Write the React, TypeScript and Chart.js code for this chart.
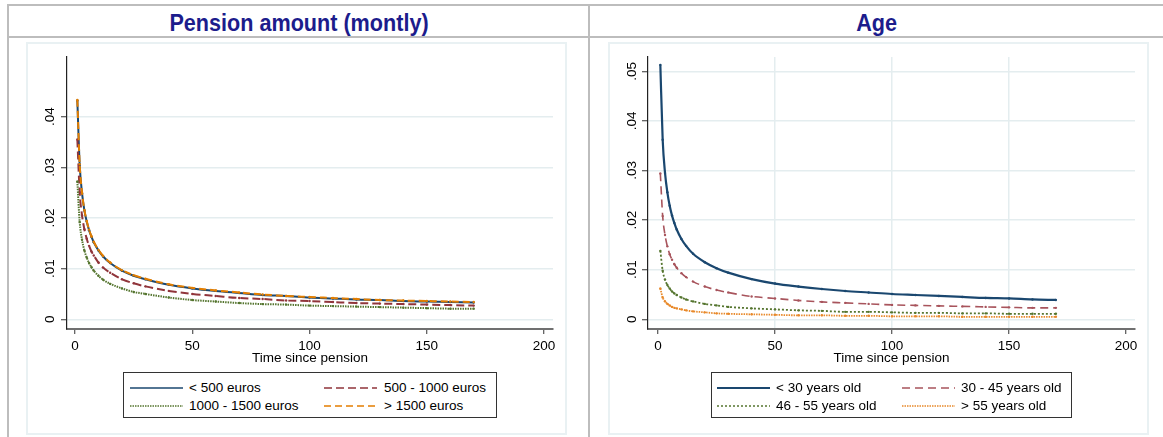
import React, { useEffect, useRef } from "react";
import { Chart, registerables } from "chart.js";

Chart.register(...registerables);

// ---------- data ----------
const timePoints = [1, 2, 3, 4, 5, 6, 7, 8, 10, 12, 15, 20, 25, 30, 40, 50, 60, 70, 80, 90, 100, 110, 120, 130, 140, 150, 160, 170];
const xTicks = [0, 50, 100, 150, 200];
const pensionYTicks = [0, 0.01, 0.02, 0.03, 0.04];
const ageYTicks = [0, 0.01, 0.02, 0.03, 0.04, 0.05];

const pensionTitle = "Pension amount (montly)";
const ageTitle = "Age";
const xAxisTitle = "Time since pension";

const pensionLabels = ["< 500 euros", "500 - 1000 euros", "1000 - 1500 euros", "> 1500 euros"];
const pensionUnder500 = [0.0432, 0.0305, 0.0249, 0.0215, 0.0193, 0.0176, 0.0163, 0.0152, 0.0136, 0.0124, 0.0111, 0.0096, 0.0086, 0.0079, 0.0068, 0.0061, 0.0056, 0.0052, 0.0048, 0.0046, 0.0043, 0.0041, 0.0039, 0.0038, 0.0036, 0.0035, 0.0034, 0.0033];
const pension500to1000 = [0.0355, 0.0251, 0.0205, 0.0178, 0.0159, 0.0145, 0.0134, 0.0126, 0.0112, 0.0102, 0.0092, 0.0079, 0.0071, 0.0065, 0.0056, 0.0050, 0.0046, 0.0042, 0.0040, 0.0037, 0.0036, 0.0034, 0.0032, 0.0031, 0.0030, 0.0029, 0.0028, 0.0027];
const pension1000to1500 = [0.0272, 0.0192, 0.0157, 0.0136, 0.0122, 0.0111, 0.0103, 0.0096, 0.0086, 0.0078, 0.0070, 0.0061, 0.0054, 0.0050, 0.0043, 0.0038, 0.0035, 0.0032, 0.0030, 0.0029, 0.0027, 0.0026, 0.0025, 0.0024, 0.0023, 0.0022, 0.0021, 0.0021];
const pensionOver1500 = [0.0433, 0.0306, 0.0250, 0.0216, 0.0194, 0.0177, 0.0164, 0.0153, 0.0137, 0.0125, 0.0112, 0.0097, 0.0087, 0.0080, 0.0069, 0.0062, 0.0057, 0.0053, 0.0049, 0.0046, 0.0044, 0.0042, 0.0040, 0.0038, 0.0037, 0.0036, 0.0035, 0.0034];

const ageLabels = ["< 30 years old", "30 - 45 years old", "46 - 55 years old", "> 55 years old"];
const ageUnder30 = [0.0513, 0.0362, 0.0295, 0.0256, 0.0229, 0.0209, 0.0194, 0.0181, 0.0162, 0.0148, 0.0132, 0.0115, 0.0103, 0.0094, 0.0081, 0.0072, 0.0066, 0.0061, 0.0057, 0.0054, 0.0051, 0.0049, 0.0047, 0.0045, 0.0043, 0.0042, 0.0040, 0.0039];
const age30to45 = [0.0294, 0.0208, 0.0170, 0.0147, 0.0131, 0.0120, 0.0111, 0.0104, 0.0093, 0.0085, 0.0076, 0.0066, 0.0059, 0.0054, 0.0046, 0.0042, 0.0038, 0.0035, 0.0033, 0.0031, 0.0029, 0.0028, 0.0027, 0.0026, 0.0025, 0.0024, 0.0023, 0.0023];
const age46to55 = [0.0138, 0.0098, 0.0080, 0.0069, 0.0062, 0.0056, 0.0052, 0.0049, 0.0044, 0.0040, 0.0036, 0.0031, 0.0028, 0.0025, 0.0022, 0.0020, 0.0018, 0.0017, 0.0015, 0.0015, 0.0014, 0.0013, 0.0013, 0.0012, 0.0012, 0.0011, 0.0011, 0.0011];
const ageOver55 = [0.0062, 0.0044, 0.0036, 0.0031, 0.0028, 0.0025, 0.0023, 0.0022, 0.0020, 0.0018, 0.0016, 0.0014, 0.0012, 0.0011, 0.0010, 0.0009, 0.0008, 0.0008, 0.0007, 0.0007, 0.0006, 0.0006, 0.0006, 0.0005, 0.0005, 0.0005, 0.0005, 0.0005];

// ---------- styles ----------
type SeriesStyle = { color: string; width: number; dash: number[]; order: number };

const pensionStyles: SeriesStyle[] = [
  { color: "#1a476f", width: 2, dash: [], order: 3 },
  { color: "#90353b", width: 2, dash: [8, 4], order: 2 },
  { color: "#55752f", width: 2, dash: [1.5, 1], order: 1 },
  { color: "#e37e00", width: 2, dash: [7, 4], order: 0 },
];
const ageStyles: SeriesStyle[] = [
  { color: "#1a476f", width: 2.2, dash: [], order: 0 },
  { color: "#a8545c", width: 1.6, dash: [8, 5], order: 1 },
  { color: "#55752f", width: 1.8, dash: [2, 2], order: 2 },
  { color: "#e8892a", width: 1.8, dash: [1.5, 1], order: 3 },
];

const FONT = '"Liberation Sans", Arial, Helvetica, sans-serif';
const GRID = "#e4edef";
const GRAY = "#bdbdbd";

const fmtY = (v: number) => (v === 0 ? "0" : v.toFixed(2).replace(/^0/, ""));

type PanelProps = {
  labels: string[];
  values: number[][];
  styles: SeriesStyle[];
  yTicks: number[];
  yMin: number;
  yMax: number;
  xMin: number;
  xMax: number;
  yAxisWidth: number;
  xGrid: boolean;
  left: number;
};

function PanelChart(p: PanelProps) {
  const ref = useRef<HTMLCanvasElement | null>(null);
  useEffect(() => {
    if (!ref.current) return;
    const rotLabels = {
      id: "rotLabels",
      afterDraw(chart: any) {
        const ys = chart.scales.y;
        const ctx = chart.ctx;
        ctx.save();
        ctx.fillStyle = "#000";
        ctx.font = "13.5px " + FONT;
        ctx.textAlign = "center";
        ctx.textBaseline = "middle";
        for (const v of p.yTicks) {
          const py = ys.getPixelForValue(v);
          ctx.save();
          ctx.translate(24, py);
          ctx.rotate(-Math.PI / 2);
          ctx.fillText(fmtY(v), 0, 0);
          ctx.restore();
        }
        ctx.restore();
      },
    };
    const chart = new Chart(ref.current, {
      type: "line",
      data: {
        datasets: p.values.map((vals, i) => ({
          label: p.labels[i],
          data: vals.map((v, k) => ({ x: timePoints[k], y: v })),
          borderColor: p.styles[i].color,
          backgroundColor: p.styles[i].color,
          borderWidth: p.styles[i].width,
          borderDash: p.styles[i].dash,
          pointRadius: 1.2,
          pointBorderWidth: 0,
          pointBackgroundColor: p.styles[i].color,
          cubicInterpolationMode: "monotone",
          order: p.styles[i].order,
          fill: false,
        })),
      },
      options: {
        animation: false,
        responsive: false,
        layout: { padding: { left: 0, top: 15, right: 14, bottom: 69 } },
        plugins: { legend: { display: false }, tooltip: { enabled: false } },
        scales: {
          x: {
            type: "linear",
            min: p.xMin,
            max: p.xMax,
            afterBuildTicks: (s: any) => {
              s.ticks = xTicks.map((v) => ({ value: v }));
            },
            afterFit: (s: any) => {
              s.height = 37;
            },
            ticks: {
              color: "#000",
              font: { family: FONT, size: 13.5 },
              padding: 4,
              maxRotation: 0,
              minRotation: 0,
              callback: (v: any) => String(v),
            },
            grid: {
              drawOnChartArea: p.xGrid,
              color: (c: any) =>
                c.tick && [50, 100, 150].includes(c.tick.value) ? GRID : "rgba(0,0,0,0)",
              lineWidth: 1.5,
              tickColor: "#333",
              tickLength: 5,
              tickWidth: 1,
            },
            border: { color: "#707070", width: 2 },
            title: {
              display: true,
              text: xAxisTitle,
              color: "#000",
              font: { family: FONT, size: 13.5 },
              padding: { top: 0, bottom: 0 },
            },
          },
          y: {
            type: "linear",
            min: p.yMin,
            max: p.yMax,
            afterBuildTicks: (s: any) => {
              s.ticks = p.yTicks.map((v) => ({ value: v }));
            },
            afterFit: (s: any) => {
              s.width = p.yAxisWidth;
            },
            ticks: { display: false },
            grid: {
              color: GRID,
              lineWidth: 1.5,
              tickColor: "#333",
              tickLength: 6,
              tickWidth: 1,
            },
            border: { color: "#222", width: 1.2 },
          },
        },
      },
      plugins: [rotLabels],
    } as any);
    return () => chart.destroy();
  }, []);
  return (
    <canvas
      ref={ref}
      width={541}
      height={393}
      style={{ position: "absolute", left: p.left, top: 42, width: 541, height: 393 }}
    />
  );
}

function LegendSample({ s, x, y }: { s: SeriesStyle; x: number; y: number }) {
  return (
    <svg style={{ position: "absolute", left: x, top: y - 3 }} width={53} height={6}>
      <line
        x1={0}
        y1={3}
        x2={53}
        y2={3}
        stroke={s.color}
        strokeWidth={Math.max(1.5, s.width - 0.3)}
        strokeDasharray={s.dash.length ? s.dash.join(",") : undefined}
      />
    </svg>
  );
}

function Legend({
  labels,
  styles,
  left,
  width,
  col1,
  col2,
}: {
  labels: string[];
  styles: SeriesStyle[];
  left: number;
  width: number;
  col1: [number, number];
  col2: [number, number];
}) {
  const rows = [15, 33];
  const items = [0, 1, 2, 3].map((i) => {
    const col = i % 2 === 0 ? col1 : col2;
    const y = rows[Math.floor(i / 2)];
    return (
      <React.Fragment key={i}>
        <LegendSample s={styles[i]} x={col[0]} y={y} />
        <div
          style={{
            position: "absolute",
            left: col[1],
            top: y - 9,
            height: 18,
            lineHeight: "18px",
            fontFamily: FONT,
            fontSize: 13.5,
            color: "#000",
            whiteSpace: "nowrap",
          }}
        >
          {labels[i]}
        </div>
      </React.Fragment>
    );
  });
  return (
    <div
      style={{
        position: "absolute",
        left,
        top: 372,
        width,
        height: 46,
        border: "1px solid #333",
        boxSizing: "border-box",
        background: "#fff",
      }}
    >
      {items}
    </div>
  );
}

function Title({ text, left, width }: { text: string; left: number; width: number }) {
  return (
    <div
      style={{
        position: "absolute",
        left,
        width,
        top: 8,
        height: 30,
        lineHeight: "30px",
        textAlign: "center",
      }}
    >
      <span
        style={{
          display: "inline-block",
          fontFamily: FONT,
          fontWeight: "bold",
          fontSize: 24,
          color: "#1c1c8c",
          whiteSpace: "nowrap",
          transform: "scaleX(0.9)",
          transformOrigin: "50% 50%",
        }}
      >
        {text}
      </span>
    </div>
  );
}

export default function App() {
  return (
    <div
      style={{
        position: "fixed",
        left: 0,
        top: 0,
        width: 1163,
        height: 437,
        background: "#fff",
        overflow: "hidden",
      }}
    >
      {/* frame lines */}
      <div style={{ position: "absolute", left: 7, top: 4, width: 1156, height: 2, background: GRAY }} />
      <div style={{ position: "absolute", left: 7, top: 36, width: 1156, height: 2, background: GRAY }} />
      <div style={{ position: "absolute", left: 7, top: 4, width: 2, height: 433, background: GRAY }} />
      <div style={{ position: "absolute", left: 588, top: 4, width: 2, height: 433, background: GRAY }} />

      <Title text={pensionTitle} left={9} width={579} />
      <Title text={ageTitle} left={590} width={573} />

      {/* plot region boxes */}
      <div style={{ position: "absolute", left: 26, top: 42, width: 541, height: 393, border: "2px solid #e9f1f3", boxSizing: "border-box" }} />
      <div style={{ position: "absolute", left: 608, top: 42, width: 541, height: 393, border: "2px solid #e9f1f3", boxSizing: "border-box" }} />

      <PanelChart
        labels={pensionLabels}
        values={[pensionUnder500, pension500to1000, pension1000to1500, pensionOver1500]}
        styles={pensionStyles}
        yTicks={pensionYTicks}
        yMin={-0.00192}
        yMax={0.05179}
        xMin={-3.41}
        xMax={203.8}
        yAxisWidth={41}
        xGrid={false}
        left={26}
      />
      <PanelChart
        labels={ageLabels}
        values={[ageUnder30, age30to45, age46to55, ageOver55]}
        styles={ageStyles}
        yTicks={ageYTicks}
        yMin={-0.00196}
        yMax={0.05288}
        xMin={-4.27}
        xMax={203.8}
        yAxisWidth={40}
        xGrid={true}
        left={608}
      />

      <Legend labels={pensionLabels} styles={pensionStyles} left={123} width={374} col1={[6, 65]} col2={[200, 260]} />
      <Legend labels={ageLabels} styles={ageStyles} left={711} width={361} col1={[5, 64]} col2={[190, 249]} />
    </div>
  );
}
